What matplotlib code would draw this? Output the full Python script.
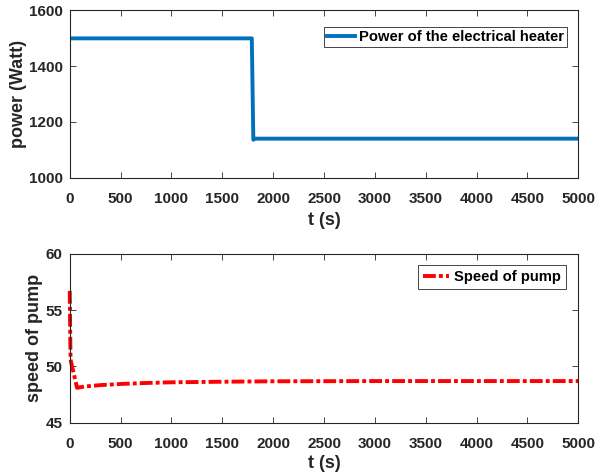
import matplotlib
matplotlib.use('Agg')
import matplotlib.pyplot as plt
import numpy as np

# data
power_t = [0, 1790, 1805, 1815, 5000]               # [s]
power_w = [1500, 1500, 1136, 1140, 1140]            # [W]

pump_t = [0, 8, 72, 150, 300, 500, 750, 1000, 1500, 2000, 3000, 5000]
pump_v = [56.7, 50.6, 48.1, 48.22, 48.34, 48.44, 48.53, 48.59, 48.64, 48.68, 48.7, 48.7]

xticks = np.arange(0, 5001, 500)

# style
plt.rcParams['font.family'] = ['Liberation Sans', 'DejaVu Sans']
plt.rcParams['font.weight'] = 'bold'
_axcol = '#262626'
_tickfs = 11
_labfs = 13
_legfs = 10.6
_lw = 2.8


def style_ax(ax):
    for s in ax.spines.values():
        s.set_color(_axcol)
        s.set_linewidth(0.8)
    ax.tick_params(direction='in', length=4, width=0.6, color=_axcol,
                   labelcolor=_axcol, labelsize=_tickfs,
                   top=True, right=True)
    ax.tick_params(axis='x', pad=10)
    ax.tick_params(axis='y', pad=5)
    for lab in ax.get_xticklabels() + ax.get_yticklabels():
        lab.set_fontweight('bold')


fig = plt.figure(figsize=(5.98, 4.75), dpi=100)
ax1 = fig.add_axes([0.1166, 0.626, 0.8505, 0.3519])
ax2 = fig.add_axes([0.1166, 0.110, 0.8505, 0.3558])

# top: heater power
ax1.plot(power_t, power_w, color='#0072BD', lw=_lw,
         label='Power of the electrical heater')
ax1.set_xlim(0, 5000)
ax1.set_ylim(1000, 1600)
ax1.set_xticks(xticks)
ax1.set_yticks([1000, 1200, 1400, 1600])
ax1.set_xlabel('t (s)', fontsize=_labfs, fontweight='bold', color=_axcol, labelpad=5)
ax1.set_ylabel('power (Watt)', fontsize=_labfs, fontweight='bold', color=_axcol, labelpad=1)
style_ax(ax1)
leg1 = ax1.legend(loc='upper right', bbox_to_anchor=(0.978, 0.901),
                  fontsize=_legfs, handlelength=1.9, borderaxespad=0,
                  fancybox=False, framealpha=1, edgecolor=_axcol,
                  borderpad=0.2, handletextpad=0.3)
leg1.get_frame().set_linewidth(0.6)

# bottom: pump speed
ax2.plot(pump_t, pump_v, color='red', lw=_lw, ls=(0, (3.3, 0.8, 1, 0.8)),
         label='Speed of pump', clip_on=False)
ax2.set_xlim(0, 5000)
ax2.set_ylim(45, 60)
ax2.set_xticks(xticks)
ax2.set_yticks([45, 50, 55, 60])
ax2.set_xlabel('t (s)', fontsize=_labfs, fontweight='bold', color=_axcol, labelpad=3)
ax2.set_ylabel('speed of pump', fontsize=_labfs, fontweight='bold', color=_axcol, labelpad=2)
style_ax(ax2)
leg2 = ax2.legend(loc='upper right', bbox_to_anchor=(0.976, 0.933),
                  fontsize=_legfs, handlelength=1.75, borderaxespad=0,
                  fancybox=False, framealpha=1, edgecolor=_axcol,
                  borderpad=0.35, handletextpad=0.35)
leg2.get_frame().set_linewidth(0.6)

fig.savefig('out.png', dpi=100)
